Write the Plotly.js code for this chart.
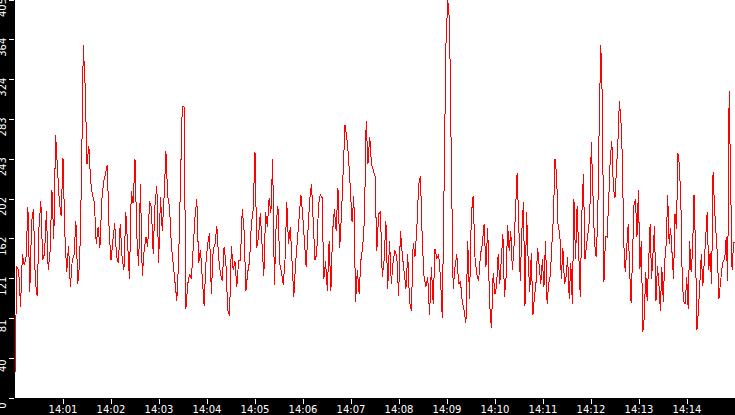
<!DOCTYPE html>
<html>
<head>
<meta charset="utf-8">
<script src="https://cdn.plot.ly/plotly-3.0.1.min.js"></script>
<style>
  html, body { margin: 0; padding: 0; background: #000; }
  #chart { width: 735px; height: 415px; }
  .scatterlayer path.js-line { shape-rendering: crispEdges !important; }
</style>
</head>
<body>
<div id="chart"></div>
<script>
// readings, one array per 150 s stretch starting at 14:00:00
const day = '2024-01-01'
const seg1 = [25, 134, 130, 93, 146, 135, 144, 194, 108, 179, 192, 119, 104, 174, 200, 140, 147, 190, 130, 149,
  212, 162, 268, 237, 200, 185, 244, 168, 128, 155, 113, 140, 146, 180, 116, 137, 222, 359, 318, 238,
  256, 220, 206, 199, 157, 174, 153, 201, 220, 228, 237, 170, 140, 160, 178, 144, 137, 177, 143, 130,
  189, 157, 121, 211, 198]
const seg2 = [243, 165, 134, 218, 124, 150, 164, 154, 200, 194, 147, 196, 216, 137, 205, 170, 205, 251, 205, 194,
  155, 134, 113, 99, 140, 216, 297, 296, 91, 116, 126, 121, 157, 184, 202, 137, 151, 119, 94, 137,
  157, 168, 106, 151, 157, 175, 143, 126, 119, 154, 137, 89, 84, 155, 130, 139, 113, 140, 140, 192,
  170, 109, 128, 139, 177, 192]
const seg3 = [250, 153, 164, 188, 153, 124, 189, 174, 203, 188, 243, 115, 178, 195, 137, 128, 115, 140, 199, 157,
  174, 143, 103, 137, 162, 180, 207, 187, 157, 133, 170, 202, 218, 170, 140, 147, 197, 207, 204, 121,
  139, 109, 160, 109, 170, 192, 170, 214, 153, 187, 235, 278, 266, 245, 214, 179, 206, 98, 130, 106,
  140, 153, 181, 282, 238, 266, 238, 231]
const seg4 = [226, 150, 187, 190, 123, 140, 180, 111, 160, 116, 140, 150, 143, 104, 170, 146, 131, 111, 146, 98,
  89, 158, 144, 172, 217, 226, 160, 123, 113, 123, 84, 133, 96, 152, 142, 146, 123, 81, 216, 359,
  405, 383, 238, 111, 133, 146, 116, 119, 98, 89, 76, 160, 101, 187, 206, 143, 126, 119, 146, 156,
  177, 133, 173, 98, 71, 127]
const seg5 = [106, 114, 146, 116, 141, 167, 103, 123, 176, 150, 170, 130, 153, 197, 229, 181, 119, 170, 199, 94,
  189, 140, 108, 148, 84, 103, 118, 153, 130, 116, 141, 113, 160, 96, 116, 124, 155, 184, 243, 228,
  172, 170, 121, 153, 116, 123, 143, 101, 137, 96, 202, 141, 195, 148, 103, 187, 228, 141, 157, 173,
  184, 260, 217, 158, 144, 176, 280, 359, 302, 118, 165, 164, 200, 244, 261, 213]
const seg6 = [204, 229, 261, 302, 284, 245, 157, 128, 150, 177, 130, 97, 146, 197, 202, 164, 212, 131, 160, 67,
  82, 128, 99, 141, 177, 121, 150, 175, 99, 134, 116, 89, 133, 98, 140, 157, 207, 157, 173, 140,
  121, 187, 172, 249, 237, 200, 116, 98, 96, 123, 91, 160, 128, 150, 207, 153, 69, 89, 123, 146,
  114, 137, 155, 189, 130, 148, 116, 230, 194, 168, 144, 101, 118, 131, 140, 141, 164, 119, 312, 213,
  130, 158]

const timeLabels = ['14:01', '14:02', '14:03', '14:04', '14:05', '14:06', '14:07',
  '14:08', '14:09', '14:10', '14:11', '14:12', '14:13', '14:14']
const yTicks = [0, 40.5, 81, 121.5, 162, 202.5, 243, 283.5, 324, 364.5, 405]
const yTickText = ['0', '40', '81', '121', '162', '202', '243', '283', '324', '364', '405']

const start = new Date(day + 'T14:00:00').getTime()
const segLen = 150 * 1000

let x = []
let y = []
const segs = [seg1, seg2, seg3, seg4, seg5, seg6]
segs.forEach((seg, k) => {
  let dt = segLen / seg.length
  seg.forEach((v, i) => {
    x.push(new Date(start + k * segLen + i * dt))
    y.push(v)
  })
})
// close the last stretch at the right edge
x.push(new Date(start + segs.length * segLen))
y.push(seg6[seg6.length - 1])

function fmt(d) {
  const p = n => String(n).padStart(2, '0')
  return d.getFullYear() + '-' + p(d.getMonth() + 1) + '-' + p(d.getDate()) + ' ' +
    p(d.getHours()) + ':' + p(d.getMinutes()) + ':' + p(d.getSeconds()) + '.' + String(d.getMilliseconds()).padStart(3, '0')
}

const font = { family: 'DejaVu Sans', size: 10, color: '#ffffff' }

Plotly.newPlot('chart', [{
  x: x.map(fmt),
  y,
  type: 'scatter',
  mode: 'lines',
  line: { color: '#ff0000', width: 1 },
  hoverinfo: 'skip',
}], {
  width: 735,
  height: 415,
  margin: { l: 15, r: 0, t: 0, b: 17, pad: 0 },
  paper_bgcolor: '#000000',
  plot_bgcolor: '#ffffff',
  showlegend: false,
  font,
  xaxis: {
    type: 'date',
    range: [day + ' 14:00:00', day + ' 14:15:00'],
    tickvals: timeLabels.map(t => day + ' ' + t + ':00'),
    ticktext: timeLabels,
    ticks: 'outside',
    ticklen: 5,
    tickwidth: 1,
    tickcolor: '#ffffff',
    tickfont: font,
    ticklabelstandoff: -3,
    showgrid: false,
    zeroline: false,
    showline: false,
    automargin: false,
  },
  yaxis: {
    range: [0, 405],
    tickvals: yTicks,
    ticktext: yTickText,
    tickangle: -90,
    ticks: 'outside',
    ticklen: 5,
    tickwidth: 1,
    tickcolor: '#ffffff',
    tickfont: font,
    ticklabelshift: 9,
    ticklabelstandoff: -1,
    ticklabeloverflow: 'allow',
    showgrid: false,
    zeroline: false,
    showline: false,
    automargin: false,
  },
}, { staticPlot: true, displayModeBar: false })
</script>
</body>
</html>
